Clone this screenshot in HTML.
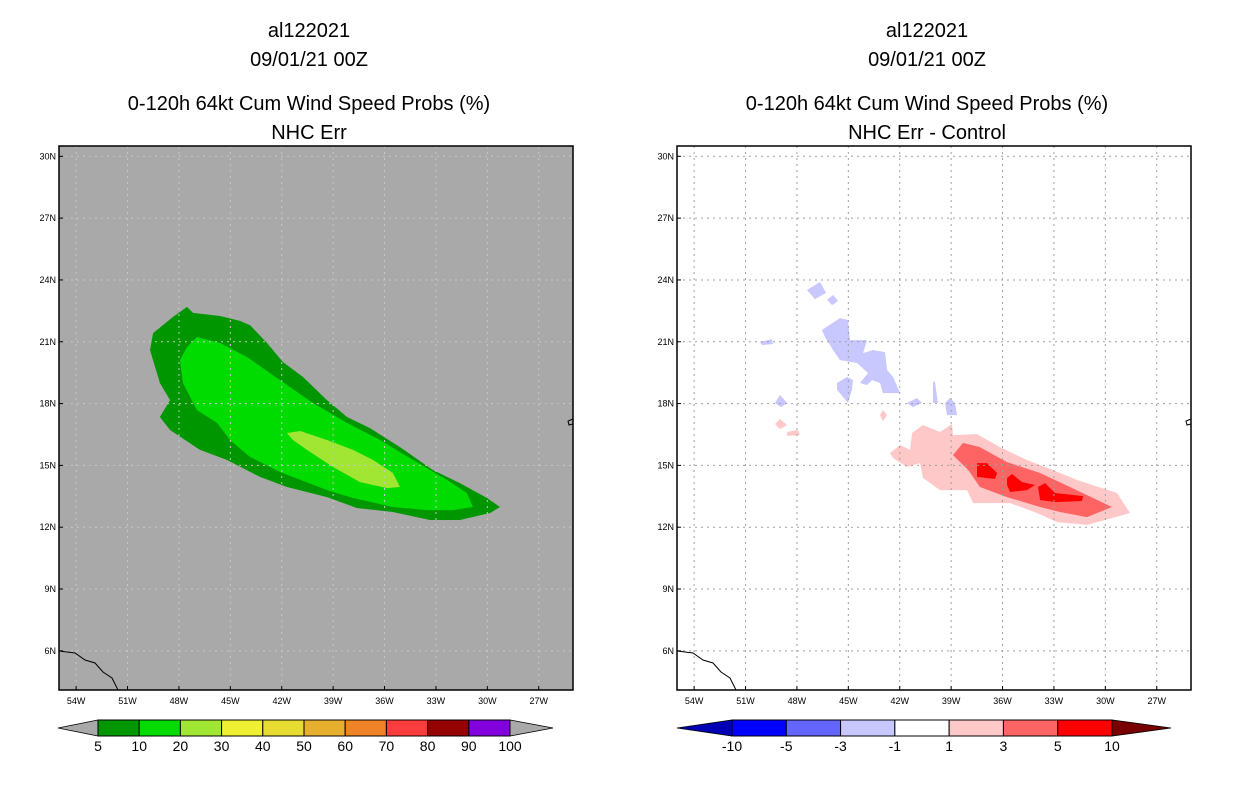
<!DOCTYPE html>
<html><head><meta charset="utf-8"><style>
body{margin:0;background:#fff;width:1236px;height:800px;overflow:hidden}
svg text{font-family:"Liberation Sans",sans-serif;fill:#000}
</style></head><body>
<svg id="s" width="1236" height="800" xmlns="http://www.w3.org/2000/svg">
<g font-size="20" text-anchor="middle">
<text x="309" y="37">al122021</text><text x="309" y="66">09/01/21 00Z</text>
<text x="309" y="110">0-120h 64kt Cum Wind Speed Probs (%)</text><text x="309" y="139">NHC Err</text></g>
<g font-size="20" text-anchor="middle">
<text x="927" y="37">al122021</text><text x="927" y="66">09/01/21 00Z</text>
<text x="927" y="110">0-120h 64kt Cum Wind Speed Probs (%)</text><text x="927" y="139">NHC Err - Control</text></g>
<g id="L"></g>
<g id="R"></g>
<g id="CB"></g>
</svg>
<script>
const NS="http://www.w3.org/2000/svg";
const latTicks=[30,27,24,21,18,15,12,9,6];
const lonTicks=[54,51,48,45,42,39,36,33,30,27];
const probLevels=["5","10","20","30","40","50","60","70","80","90","100"];
const probColors=["#009600","#00dc00","#a0e632","#f0f032","#e6dc32","#e6af2d","#f08228","#fa3c3c","#960000","#8200dc"];
const diffLevels=["-10","-5","-3","-1","1","3","5","10"];
const diffColors=["#0000b4","#0000ff","#6464ff","#c8c8ff","#ffffff","#ffc8c8","#ff6464","#ff0000","#780000"];
// contour polygons [lon(W), lat(N)] pairs
const probOuter=[[47.53,22.69],[47.18,22.40],[45.60,22.25],[44.44,22.01],[43.85,21.81],[42.86,20.94],[41.93,20.02],[40.76,19.29],[39.36,18.17],[38.19,17.35],[36.85,16.81],[35.10,15.89],[33.17,14.77],[31.60,14.14],[30.02,13.42],[29.26,12.98],[29.84,12.69],[31.60,12.35],[33.35,12.35],[35.51,12.74],[37.61,12.93],[39.36,13.46],[41.69,13.95],[43.27,14.44],[45.19,15.26],[46.77,15.75],[48.52,16.72],[49.11,17.35],[48.52,18.17],[49.11,19.00],[49.69,20.60],[49.51,21.42],[48.35,22.20]];
const probMid=[[46.95,21.23],[45.60,20.94],[44.03,20.26],[42.10,19.14],[40.18,18.03],[38.19,17.06],[36.26,16.23],[34.34,15.26],[32.35,14.29],[31.19,13.66],[30.84,12.98],[32.0,12.83],[33.52,12.83],[35.51,12.98],[37.84,13.42],[39.36,13.80],[42.10,14.68],[43.85,15.41],[45.02,16.23],[45.78,17.06],[46.95,17.69],[47.76,19.0],[47.94,20.11],[47.53,20.74]];
const probInner=[[41.69,16.57],[40.93,16.67],[39.36,16.23],[37.84,15.75],[36.67,15.26],[35.51,14.63],[35.10,13.95],[35.86,13.90],[37.43,14.19],[39.01,14.92],[40.53,15.75],[41.34,16.23]];
const pinkA=[[42.57,15.60],[41.98,15.99],[41.40,15.75],[41.28,16.57],[40.64,16.96],[39.65,16.62],[38.95,17.01],[38.89,16.47],[37.49,16.52],[36.15,15.89],[34.57,15.26],[33.05,14.77],[31.65,14.29],[29.32,13.66],[28.56,12.69],[29.55,12.45],[31.07,12.11],[32.82,12.25],[33.99,12.69],[35.56,13.17],[37.72,13.17],[38.07,13.80],[39.65,13.80],[40.64,14.39],[40.82,15.11],[41.58,14.92],[42.39,15.36]];
const pinkB=[[38.89,15.50],[38.31,16.09],[37.32,15.89],[35.74,15.16],[33.81,14.63],[32.06,13.95],[29.61,12.98],[31.07,12.49],[32.65,12.74],[33.81,12.98],[35.74,13.46],[37.32,13.95],[38.0,14.77]];
const redBlobs=[[[37.49,15.11],[36.91,15.11],[36.32,14.63],[36.44,14.34],[37.49,14.44]],[[35.74,14.39],[35.45,14.58],[34.86,14.19],[34.10,14.05],[34.57,13.80],[35.56,13.71],[35.74,14.05]],[[33.93,13.95],[33.52,14.14],[32.94,13.66],[31.30,13.51],[31.36,13.27],[32.94,13.22],[33.81,13.32]]];
const pinkSmall=[[[49.28,17.01],[48.99,17.25],[48.58,16.96],[48.99,16.76]],[[48.58,16.62],[47.94,16.72],[47.82,16.47],[48.58,16.43]],[[43.15,17.44],[42.98,17.69],[42.74,17.44],[42.98,17.15]]];
const blueBlobs=[[[46.54,21.57],[45.49,22.15],[45.02,22.06],[44.90,21.08],[43.91,21.08],[44.14,20.45],[43.56,20.60],[42.86,20.50],[42.74,19.63],[42.39,19.29],[41.98,18.51],[42.98,18.51],[43.15,19.0],[43.62,19.14],[43.91,18.90],[44.32,19.0],[43.85,19.48],[44.49,19.97],[45.49,20.11],[45.89,20.60],[46.36,21.23]],
[[45.66,19.0],[45.08,19.29],[44.73,19.14],[44.79,18.66],[45.02,18.03],[45.49,18.51],[45.66,18.66]],
[[47.41,23.51],[46.65,23.90],[46.30,23.37],[46.95,23.07]],[[46.25,23.03],[45.89,23.27],[45.60,22.98],[45.95,22.78]],
[[50.16,20.99],[49.46,21.13],[49.40,20.89],[50.04,20.84]],[[49.28,18.03],[48.99,18.42],[48.58,18.03],[48.93,17.83]],
[[41.58,18.03],[40.99,18.27],[40.70,18.03],[41.23,17.83]],[[39.36,18.03],[39.07,18.27],[38.77,18.03],[38.66,17.44],[39.24,17.44]],
[[40.06,19.05],[39.94,19.05],[39.77,18.03],[40.06,18.03]]];
const X0=59,Y0=146,W=514,H=544,LONW=55,LONE=25,LATS=4.1,LATN=30.5;
function px(lon,off){return off+X0+(LONW-lon)/(LONW-LONE)*W}
function py(lat){return Y0+(LATN-lat)/(LATN-LATS)*H}
function el(t,a,p){const e=document.createElementNS(NS,t);for(const k in a)e.setAttribute(k,a[k]);p.appendChild(e);return e}
function poly(pts,off,fill,p,name){const e=el('polygon',{points:pts.map(q=>px(q[0],off).toFixed(1)+','+py(q[1]).toFixed(1)).join(' '),fill:fill},p);

return e}
function panel(g,off,bg){
 el('rect',{x:off+X0,y:Y0,width:W,height:H,fill:bg},g);
 return g;}
function frame(g,off,gridCol){
 for(const t of lonTicks){const x=px(t,off);
  const l=el('line',{x1:x,y1:Y0,x2:x,y2:Y0+H,stroke:gridCol,'stroke-width':1,'stroke-dasharray':'2,4'},g);
  
  
  const tx=el('text',{x:x,y:Y0+H+14,'font-size':9,'text-anchor':'middle'},g);tx.textContent=t+'W';
  
  
  el('line',{x1:x,y1:Y0+H,x2:x,y2:Y0+H-4,stroke:'#000'},g);}
 for(const t of latTicks){const y=py(t);
  const l=el('line',{x1:off+X0,y1:y,x2:off+X0+W,y2:y,stroke:gridCol,'stroke-width':1,'stroke-dasharray':'2,4'},g);
  
  
  const tx=el('text',{x:off+X0-3,y:y+3,'font-size':9,'text-anchor':'end'},g);tx.textContent=t+'N';
  
  
  el('line',{x1:off+X0,y1:y,x2:off+X0+4,y2:y,stroke:'#000'},g);}
 const c=el('polyline',{points:`${off+59},651 ${off+75},653 ${off+85},660 ${off+95},663 ${off+103},672 ${off+112},678 ${off+118},690`,fill:'none',stroke:'#000','stroke-width':1},g);
 
 
 el('polyline',{points:`${off+573},419 ${off+568},421 ${off+569},425 ${off+573},424`,fill:'none',stroke:'#000'},g);
 const b=el('rect',{x:off+X0,y:Y0,width:W,height:H,fill:'none',stroke:'#000','stroke-width':1.5},g);
 
 }
const L=document.getElementById('L'),R=document.getElementById('R');
panel(L,0,'#a9a9a9');
poly(probOuter,0,probColors[0],L,'contour-5-10');
poly(probMid,0,probColors[1],L,'contour-10-20');
poly(probInner,0,probColors[2],L,'contour-20-30');
frame(L,0,'#c8c8c8');
panel(R,618,'#fff');
poly(pinkA,618,diffColors[5],R,'contour-1-3');
pinkSmall.forEach(p=>poly(p,618,diffColors[5],R,'contour-1-3-small'));
poly(pinkB,618,diffColors[6],R,'contour-3-5');
redBlobs.forEach(p=>poly(p,618,diffColors[7],R,'contour-5-10'));
blueBlobs.forEach(p=>poly(p,618,diffColors[3],R,'contour-neg1-neg3'));
frame(R,618,'#a0a0a0');
const CB=document.getElementById('CB');
function bar(x0,x1,triL,triR,cols,labels,lc,rc){
 const n=cols.length,w=(x1-x0)/n;
 const tl=el('polygon',{points:`${triL},728 ${x0},720 ${x0},736`,fill:lc,stroke:'#000','stroke-width':0.8},CB);
 
 
 const tr=el('polygon',{points:`${triR},728 ${x1},720 ${x1},736`,fill:rc,stroke:'#000','stroke-width':0.8},CB);
 
 
 cols.forEach((c,i)=>{const r=el('rect',{x:x0+i*w,y:720,width:w,height:16,fill:c,stroke:'#000','stroke-width':1},CB);
  
  });
 labels.forEach((t,i)=>{const tx=el('text',{x:x0+i*w,y:751,'font-size':14,'text-anchor':'middle'},CB);tx.textContent=t;
  
  });}
bar(98,510,58,553,probColors,probLevels,'#a9a9a9','#a9a9a9');
bar(732,1112,677,1171,diffColors.slice(1,8),diffLevels,diffColors[0],diffColors[8]);
</script>
</body></html>
